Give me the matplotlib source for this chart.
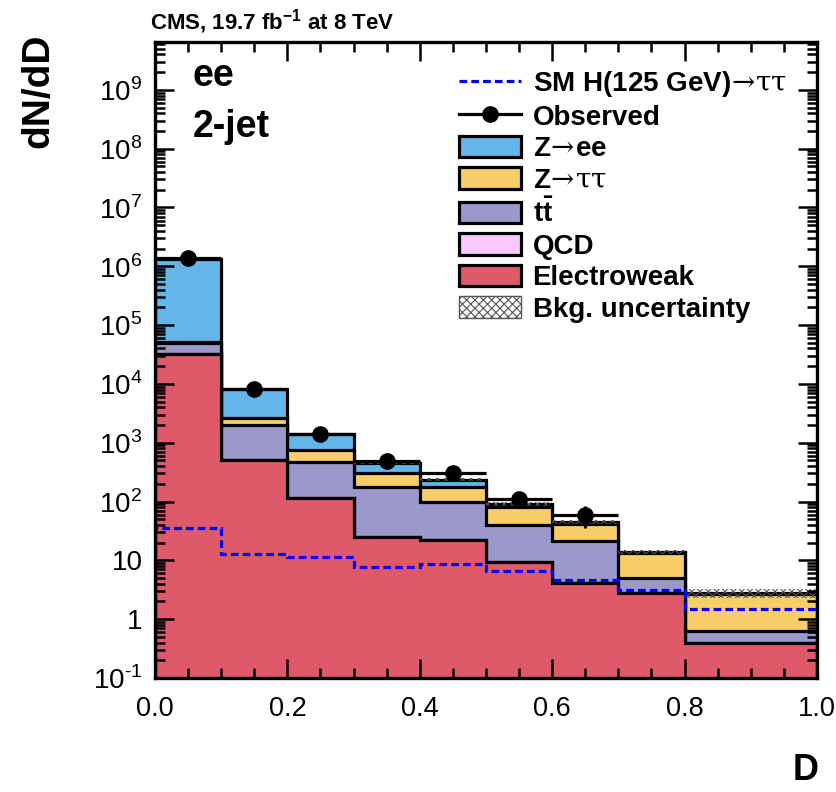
import numpy as np
import matplotlib
matplotlib.use('Agg')
import matplotlib.pyplot as plt
import matplotlib.patches as mpatches
from matplotlib.lines import Line2D
from matplotlib.ticker import MultipleLocator, LogLocator, NullFormatter, FixedLocator, FixedFormatter

plt.rcParams['font.family'] = ['Liberation Sans', 'DejaVu Sans']
plt.rcParams['mathtext.fontset'] = 'custom'
plt.rcParams['mathtext.rm'] = 'Liberation Sans'
plt.rcParams['mathtext.sf'] = 'DejaVu Serif'
plt.rcParams['mathtext.bf'] = 'Liberation Sans:bold'
plt.rcParams['hatch.linewidth'] = 0.8

# bin edges in D and per-process yields (dN/dD)
edges = [0.0, 0.1, 0.2, 0.3, 0.4, 0.5, 0.6, 0.7, 0.8, 1.0]
ewk = [3.2e4, 500, 114, 25, 22, 9.5, 4.1, 2.75, 0.40]
qcd = [0, 0, 0, 0, 0, 0, 0, 0, 0]
ttbar = [1.8e4, 1500, 360, 155, 78, 30, 17, 2.2, 0.22]
ztt = [1500, 640, 280, 130, 79, 42, 21, 8.5, 2.1]
zee = [1.30e6, 5400, 660, 150, 56, 10, 3.0, 0.5, 0.05]
bkg_unc = [0.03, 0.03, 0.04, 0.05, 0.06, 0.07, 0.08, 0.08, 0.18]
higgs = [36, 12.9, 11.3, 7.8, 8.7, 6.7, 4.6, 3.1, 1.47]

# observed data (unblinded bins only)
obs = [1.38e6, 8300, 1380, 480, 310, 110, 59]
obs_err = [3700, 290, 117, 69, 56, 33, 24]

colors = {
    'ewk': '#DE5A6A',
    'qcd': '#FACAFF',
    'ttbar': '#9B98CC',
    'ztt': '#F8CE68',
    'zee': '#64B6E8',
}

edges = np.array(edges)
layers = [('ewk', ewk), ('qcd', qcd), ('ttbar', ttbar), ('ztt', ztt), ('zee', zee)]
cum = []
run = np.zeros(len(edges) - 1)
for name, vals in layers:
    run = run + np.array(vals, dtype=float)
    cum.append((name, run.copy()))
total = cum[-1][1]

fig = plt.figure(figsize=(8.37, 7.92), dpi=100)
ax = fig.add_axes([155 / 837, 1 - 678 / 792, 662 / 837, 636 / 792])

base = 1e-5
lw = 2.3
# root-style stack: biggest first, each drawn from the baseline
for name, c in reversed(cum):
    ax.stairs(c, edges, baseline=base, fill=True, facecolor=colors[name],
              edgecolor='black', linewidth=lw, zorder=1)

# background uncertainty band
ax.stairs(total * (1 + np.array(bkg_unc)), edges, baseline=total * (1 - np.array(bkg_unc)),
          fill=True, facecolor='none', edgecolor='#555555', hatch='xxxx', linewidth=0, zorder=1.2)

# SM Higgs expectation
ax.stairs(higgs, edges, baseline=base, fill=False, color='#0000FF', linewidth=lw,
          linestyle=(0, (2.4, 1.3)), zorder=2)

centers = 0.5 * (edges[:-1] + edges[1:])
halfw = 0.5 * np.diff(edges)
n = len(obs)
ax.errorbar(centers[:n], obs, xerr=halfw[:n], yerr=obs_err, fmt='o', color='black',
            markersize=11, elinewidth=lw, capsize=0, zorder=3)

ax.set_yscale('log')
ax.set_xlim(0, 1)
ax.set_ylim(0.1, 6.5e9)

for s in ax.spines.values():
    s.set_linewidth(2.4)
    s.set_zorder(4)
ax.set_axisbelow(False)

ax.xaxis.set_major_locator(MultipleLocator(0.2))
ax.xaxis.set_minor_locator(MultipleLocator(0.05))
ax.xaxis.set_major_formatter(plt.FuncFormatter(lambda v, p: f'{v:.1f}'))

yt = [10.0 ** k for k in range(-1, 10)]
ylabels = [r'10$^{\text{-1}}$', '1', '10'] + [r'10$^{%d}$' % k for k in range(2, 10)]
ax.yaxis.set_major_locator(FixedLocator(yt))
ax.yaxis.set_major_formatter(FixedFormatter(ylabels))
ax.yaxis.set_minor_locator(LogLocator(base=10, subs=np.arange(2, 10), numticks=30))
ax.yaxis.set_minor_formatter(NullFormatter())

ax.tick_params(which='both', direction='in', top=True, right=True, width=1.8)
ax.tick_params(axis='x', which='major', length=14, labelsize=19.5, pad=13)
ax.tick_params(axis='x', which='minor', length=7)
ax.tick_params(axis='y', which='major', length=14, labelsize=20, pad=9)
ax.tick_params(axis='y', which='minor', length=7)

fig.text(150 / 837, 1 - 22 / 792, r'CMS, 19.7 fb$^{\mathbf{-1}}$ at 8 TeV', fontsize=16,
         fontweight='bold', ha='left', va='center')
fig.text(38 / 837, 1 - 34 / 792, 'dN/dD', fontsize=28, fontweight='bold',
         rotation=90, ha='center', va='top')
fig.text(819 / 837, 1 - 771 / 792, 'D', fontsize=26, fontweight='bold', ha='right', va='center')
fig.text(193 / 837, 1 - 86 / 792, 'ee', fontsize=27, fontweight='bold', ha='left', va='baseline')
fig.text(193 / 837, 1 - 137 / 792, '2-jet', fontsize=27, fontweight='bold', ha='left', va='baseline')

arrow = r'$\!\mathsf{\rightarrow}\!$'
tautau = r'$\!\mathsf{\rightarrow}\!\mathsf{\tau\tau}$'
handles = [
    Line2D([], [], color='#0000FF', linewidth=lw, linestyle=(0, (2.4, 1.3))),
    Line2D([], [], color='black', linewidth=lw, marker='o', markersize=11),
    mpatches.Patch(facecolor=colors['zee'], edgecolor='black', linewidth=lw),
    mpatches.Patch(facecolor=colors['ztt'], edgecolor='black', linewidth=lw),
    mpatches.Patch(facecolor=colors['ttbar'], edgecolor='black', linewidth=lw),
    mpatches.Patch(facecolor=colors['qcd'], edgecolor='black', linewidth=lw),
    mpatches.Patch(facecolor=colors['ewk'], edgecolor='black', linewidth=lw),
    mpatches.Patch(facecolor='white', edgecolor='#555555', hatch='xxxx', linewidth=1),
]
labels = [
    'SM H(125 GeV)' + tautau,
    'Observed',
    'Z' + arrow + 'ee',
    'Z' + tautau,
    r'$\mathbf{t\bar{t}}$',
    'QCD',
    'Electroweak',
    'Bkg. uncertainty',
]
leg = fig.legend(handles, labels, loc='upper left', bbox_to_anchor=(459 / 837, 1 - 69 / 792),
                 frameon=False, borderpad=0, borderaxespad=0, handlelength=2.25,
                 handleheight=0.8, handletextpad=0.4, labelspacing=0.19,
                 prop={'size': 20, 'weight': 'bold'})

fig.savefig('out.png', dpi=100)
